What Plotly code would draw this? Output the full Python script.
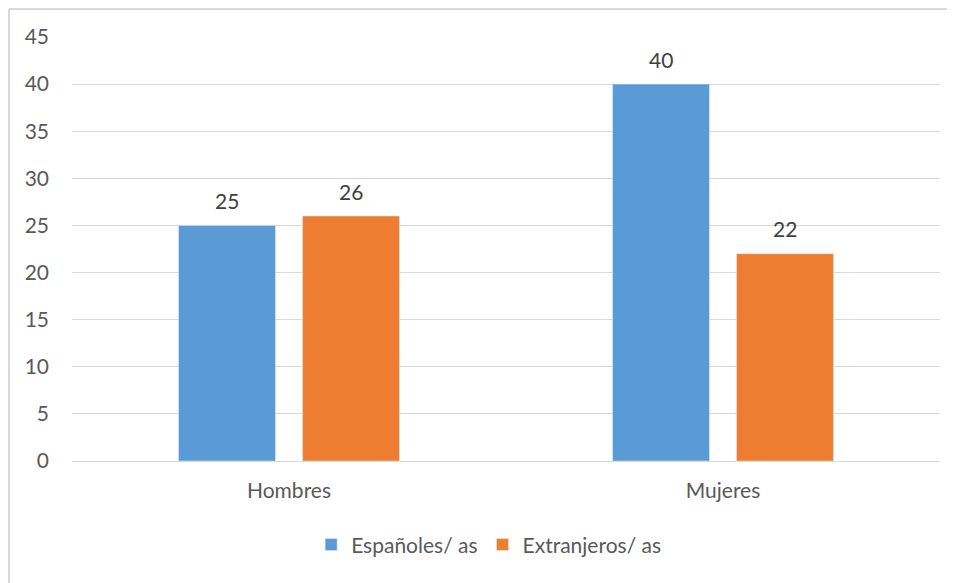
import plotly.graph_objects as go

categories = ["Hombres", "Mujeres"]
espanoles = [25, 40]
extranjeros = [26, 22]
series_names = ["Españoles/ as", "Extranjeros/ as"]

blue = "#5B9BD5"
orange = "#ED7D31"
txt = "#595959"
font_family = "Lato, 'Open Sans', sans-serif"
fs = 21

fig = go.Figure()
fig.add_trace(go.Bar(x=categories, y=espanoles, name=series_names[0], marker_color=blue))
fig.add_trace(go.Bar(x=categories, y=extranjeros, name=series_names[1], marker_color=orange))

annotations = []
for vals, shift in [(espanoles, -62), (extranjeros, 62)]:
    for c, v in zip(categories, vals):
        annotations.append(dict(x=c, y=v, text=str(v), showarrow=False, xshift=shift,
                                yshift=25, font=dict(size=fs, color="#404040", family=font_family)))

border = dict(color="#D9D9D9", width=2)
fig.update_layout(
    width=947, height=575,
    margin=dict(l=64, r=15, t=29, b=122),
    paper_bgcolor="white", plot_bgcolor="white",
    barmode="group", bargap=0.4286, bargroupgap=0.218,
    font=dict(family=font_family, size=fs, color=txt),
    annotations=annotations,
    legend=dict(orientation="h", x=0.48, xanchor="center", y=-0.198, yanchor="middle",
                font=dict(size=fs, color=txt), itemclick=False),
    yaxis=dict(range=[0, 45], dtick=5, showgrid=True, gridcolor="#D9D9D9", gridwidth=1,
               zeroline=False, showline=False, ticks="", ticklabelstandoff=22,
               tickfont=dict(size=fs, color=txt)),
    xaxis=dict(showline=True, linecolor="#D9D9D9", linewidth=1, ticks="",
               ticklabelstandoff=11, tickfont=dict(size=fs, color=txt)),
    shapes=[
        dict(type="line", xref="paper", yref="paper", x0=-0.0726, x1=-0.0726,
             y0=-0.35, y1=1.066, line=border, layer="below"),
        dict(type="line", xref="paper", yref="paper", x0=-0.0726, x1=1.05,
             y0=1.066, y1=1.066, line=border, layer="below"),
    ],
)

fig.write_html("out.html")
